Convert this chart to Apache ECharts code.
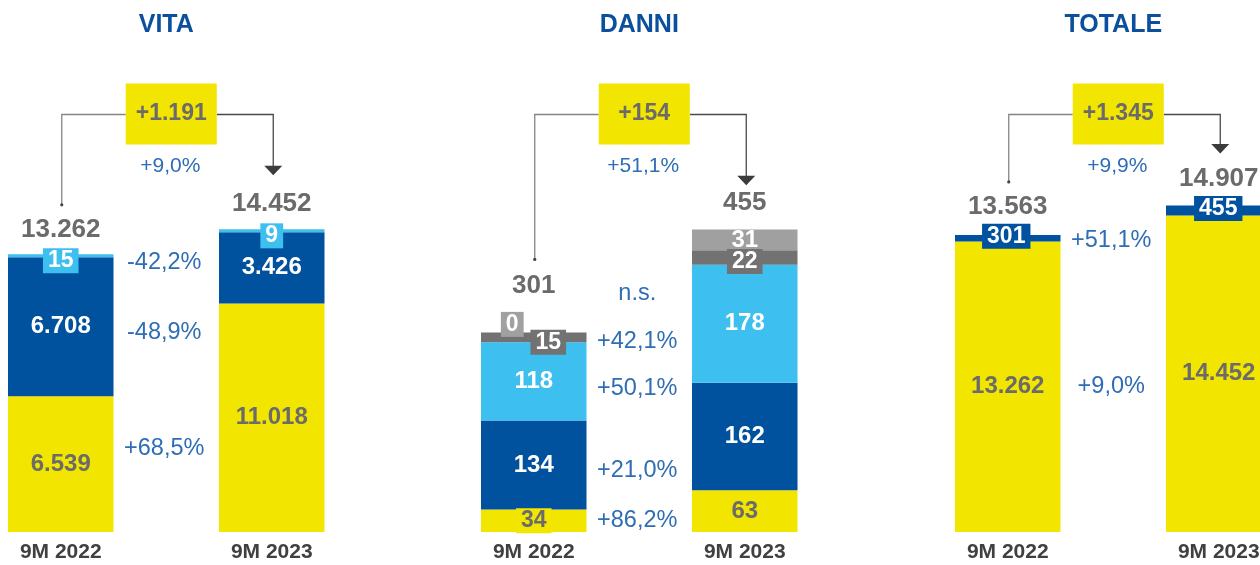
<!DOCTYPE html>
<html>
<head>
<meta charset="utf-8">
<script src="https://cdn.jsdelivr.net/npm/echarts@6/dist/echarts.min.js"></script>
<style>
  html, body { margin: 0; padding: 0; background: #ffffff; }
  #chart { width: 1260px; height: 565px; }
</style>
</head>
<body>
<div id="chart"></div>
<script>
// Periods shown under each pair of bars
const periods = ['9M 2022', '9M 2023'];
const panelTitles = ['VITA', 'DANNI', 'TOTALE'];

// VITA – segments from bottom to top
const vitaYellow = [6539, 11018];
const vitaBlue = [6708, 3426];
const vitaLightBlue = [15, 9];
const vitaTotals = [13262, 14452];
const vitaDelta = 1191;
const vitaChanges = ['+68,5%', '-48,9%', '-42,2%'];
const vitaDeltaPct = '+9,0%';

// DANNI – segments from bottom to top
const danniYellow = [34, 63];
const danniBlue = [134, 162];
const danniLightBlue = [118, 178];
const danniDarkGray = [15, 22];
const danniLightGray = [0, 31];
const danniTotals = [301, 455];
const danniDelta = 154;
const danniChanges = ['+86,2%', '+21,0%', '+50,1%', '+42,1%', 'n.s.'];
const danniDeltaPct = '+51,1%';

// TOTALE – VITA + DANNI
const totaleVita = [13262, 14452];
const totaleDanni = [301, 455];
const totaleTotals = [13563, 14907];
const totaleDelta = 1345;
const totaleChanges = ['+9,0%', '+51,1%'];
const totaleDeltaPct = '+9,9%';

// ---------------------------------------------------------------
const FONT = '"Liberation Sans", Arial, Helvetica, sans-serif';
const C = {
  yellow: '#f2e500', blue: '#00519e', lblue: '#3dbfef',
  dgray: '#727272', lgray: '#a0a0a0',
  val: '#6b6b6b', pct: '#2f6db4', title: '#0c4f9d',
  axis: '#404040', lineL: '#858585', lineR: '#4a4a4a', arrow: '#3c3c3c'
};

// Italian thousands separator
function fmt(n) {
  return String(Math.abs(n)).replace(/\B(?=(\d{3})+(?!\d))/g, '.');
}
function signed(n) { return (n >= 0 ? '+' : '-') + fmt(n); }

const categories = [periods[0], '', periods[1]];
const bandWidth = 105.5;
const gridLefts = [8, 481, 955];
const yMax = [24100, 754, 22830];

const badge = (color) => ({ backgroundColor: color, padding: [1, 5], fontSize: 23, lineHeight: 23 });

// Panel layout / styling (segments bottom → top)
const panels = [
  {
    totals: vitaTotals, delta: vitaDelta, changes: vitaChanges, deltaPct: vitaDeltaPct,
    segments: [
      { name: 'VITA A', values: vitaYellow, color: C.yellow, text: C.val },
      { name: 'VITA B', values: vitaBlue, color: C.blue, text: '#fff' },
      { name: 'VITA C', values: vitaLightBlue, color: C.lblue, text: '#fff', minHeight: 3,
        items: [Object.assign({ offset: [0, 5] }, badge(C.lblue)), Object.assign({ offset: [0, 5] }, badge(C.lblue))] }
    ],
    changeShift: [-16, 6, 6], totalLift: [27, 28], startGap: 52, tipGap: 57
  },
  {
    totals: danniTotals, delta: danniDelta, changes: danniChanges, deltaPct: danniDeltaPct,
    segments: [
      { name: 'DANNI A', values: danniYellow, color: C.yellow, text: C.val,
        items: [badge(C.yellow), {}] },
      { name: 'DANNI B', values: danniBlue, color: C.blue, text: '#fff' },
      { name: 'DANNI C', values: danniLightBlue, color: C.lblue, text: '#fff' },
      { name: 'DANNI D', values: danniDarkGray, color: C.dgray, text: '#fff',
        items: [Object.assign({ offset: [14.5, 5] }, badge(C.dgray)), Object.assign({ offset: [0, 4] }, badge(C.dgray))] },
      { name: 'DANNI E', values: danniLightGray, color: C.lgray, text: '#fff',
        items: [Object.assign({ offset: [-21.5, -8] }, badge(C.lgray)), {}] }
    ],
    changeShift: [0, 5, 7, 4, -39], totalLift: [47, 27.5], startGap: 73, tipGap: 45
  },
  {
    totals: totaleTotals, delta: totaleDelta, changes: totaleChanges, deltaPct: totaleDeltaPct,
    segments: [
      { name: 'TOTALE VITA', values: totaleVita, color: C.yellow, text: C.val },
      { name: 'TOTALE DANNI', values: totaleDanni, color: C.blue, text: '#fff',
        items: [Object.assign({ offset: [-1.5, -2] }, badge(C.blue)), Object.assign({ offset: [-0.5, -2] }, badge(C.blue))] }
    ],
    changeShift: [0, 2], totalLift: [28, 26.5], startGap: 53, tipGap: 52
  }
];

const grids = [], xAxes = [], yAxes = [], series = [];
panels.forEach((p, i) => {
  // the last panel runs past the right edge of the page
  grids.push({
    left: gridLefts[i], width: bandWidth * 3, top: 32, bottom: 33,
    containLabel: false, outerBoundsMode: 'none'
  });
  xAxes.push({
    type: 'category', gridIndex: i, data: categories,
    axisLine: { show: false }, axisTick: { show: false }, splitLine: { show: false },
    axisLabel: { interval: 0, margin: 10, color: C.axis, fontSize: 21, fontWeight: 'bold', fontFamily: FONT }
  });
  yAxes.push({ type: 'value', gridIndex: i, min: 0, max: yMax[i], show: false, splitLine: { show: false } });
  p.segments.forEach((s) => {
    const items = s.items || [];
    const point = (k) => {
      const it = { value: s.values[k] };
      if (items[k]) it.label = items[k];
      return it;
    };
    series.push({
      type: 'bar', name: s.name, xAxisIndex: i, yAxisIndex: i, stack: 'panel' + i,
      barWidth: '100%', barMinHeight: s.minHeight || 0,
      itemStyle: { color: s.color },
      emphasis: { disabled: true },
      label: {
        show: true, position: 'inside', color: s.text, fontSize: 24, fontWeight: 'bold',
        fontFamily: FONT, formatter: (d) => fmt(d.value)
      },
      data: [point(0), null, point(1)],
      animation: false
    });
  });
});

const chart = echarts.init(document.getElementById('chart'));
chart.setOption({
  animation: false,
  grid: grids, xAxis: xAxes, yAxis: yAxes, series: series
});

// Annotations positioned through each panel's scales
function txt(x, y, text, size, weight, color) {
  return {
    type: 'text', x: x, y: y, silent: true,
    style: { text: text, fontSize: size, fontWeight: weight, fontFamily: FONT, fill: color, align: 'center', verticalAlign: 'middle' }
  };
}

const g = [];
const rowY = 114.5;
panels.forEach((p, i) => {
  const toPx = (idx, v) => chart.convertToPixel({ gridIndex: i }, [idx, v]);
  const x0 = toPx(0, 0)[0];
  const x2 = toPx(2, 0)[0];
  const xm = toPx(1, 0)[0];
  const top0 = toPx(0, p.totals[0])[1];
  const top1 = toPx(2, p.totals[1])[1];

  // panel title
  g.push(txt(xm, 25, panelTitles[i], 25, 'bold', C.title));

  // totals above the bars
  g.push(txt(x0, top0 - p.totalLift[0], fmt(p.totals[0]), 26, 'bold', C.val));
  g.push(txt(x2, top1 - p.totalLift[1], fmt(p.totals[1]), 26, 'bold', C.val));

  // percentage changes next to each 2022 segment
  let base = 0;
  p.segments.forEach((s, k) => {
    const mid = base + s.values[0] / 2;
    base += s.values[0];
    const y = toPx(0, mid)[1] + p.changeShift[k];
    g.push(txt(xm - 2, y, p.changes[k], 23.5, 'normal', C.pct));
  });

  // connector from the first total to the second, with the delta box
  const boxW = 91, boxH = 61, bx = xm + 5;
  const yStart = top0 - p.startGap;
  const tipY = top1 - p.tipGap;
  g.push({ type: 'polyline', silent: true,
    shape: { points: [[x0 + 1, yStart], [x0 + 1, rowY], [bx - boxW / 2, rowY]] },
    style: { stroke: C.lineL, lineWidth: 1.3, fill: null } });
  g.push({ type: 'circle', silent: true, shape: { cx: x0 + 1, cy: yStart, r: 1.6 }, style: { fill: '#444' } });
  g.push({ type: 'polyline', silent: true,
    shape: { points: [[bx + boxW / 2, rowY], [x2 + 1.5, rowY], [x2 + 1.5, tipY - 9]] },
    style: { stroke: C.lineR, lineWidth: 1.3, fill: null } });
  g.push({ type: 'polygon', silent: true,
    shape: { points: [[x2 + 1.5 - 9, tipY - 9.5], [x2 + 1.5 + 9, tipY - 9.5], [x2 + 1.5, tipY]] },
    style: { fill: C.arrow } });
  g.push({ type: 'rect', silent: true,
    shape: { x: bx - boxW / 2, y: rowY - 0.5 - boxH / 2, width: boxW, height: boxH },
    style: { fill: C.yellow } });
  g.push(txt(bx, rowY - 1, signed(p.delta), 23, 'bold', C.val));
  g.push(txt(xm + 4, 166, p.deltaPct, 21, 'normal', C.pct));
});

chart.setOption({ graphic: g });
</script>
</body>
</html>
